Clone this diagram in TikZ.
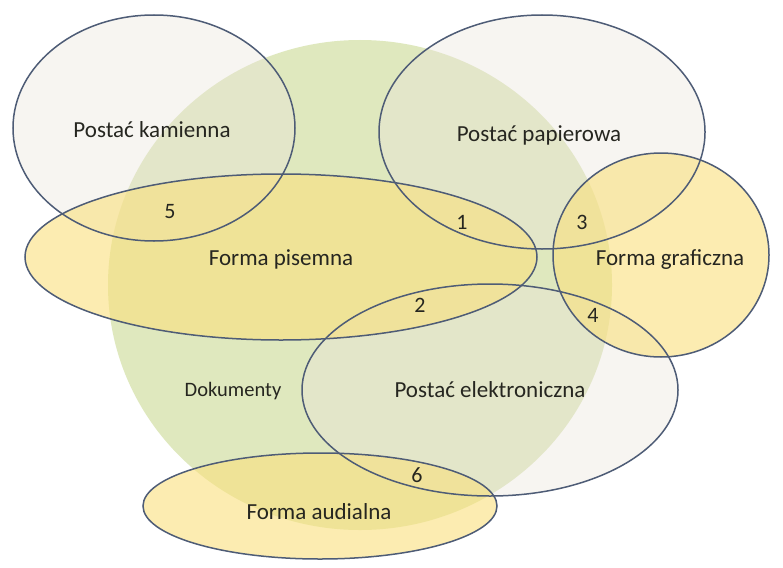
\documentclass[tikz,border=0pt]{standalone}
\usepackage{fontspec}
\setmainfont{Carlito}
\begin{document}
\begin{tikzpicture}[x=1pt,y=-1pt,
  txt/.style={text=labelcol, inner sep=0pt, font=\fontsize{23}{26}\selectfont},
  num/.style={text=labelcol, inner sep=0pt, font=\fontsize{22}{24}\selectfont},
  border/.style={draw=edgecol, line width=1.5pt},
  docfill/.style={fill=docgreen, fill opacity=0.78},
  posfill/.style={fill=posgray, fill opacity=0.38},
  formfill/.style={fill=formyellow, fill opacity=0.6}]
\definecolor{labelcol}{RGB}{38,38,32}
\definecolor{edgecol}{RGB}{78,92,118}
\definecolor{docgreen}{RGB}{214,226,172}
\definecolor{posgray}{RGB}{236,229,220}
\definecolor{formyellow}{RGB}{250,224,125}
\useasboundingbox (0,0) rectangle (783,567);
\fill[white] (0,0) rectangle (783,567);
% fills
\fill[docfill] (360,285) ellipse [x radius=252, y radius=245];
\fill[posfill] (154,128) ellipse [x radius=141, y radius=113];
\fill[posfill] (542,132) ellipse [x radius=163, y radius=117];
\fill[posfill] (490,390) ellipse [x radius=188, y radius=106];
\fill[formfill] (281,257) ellipse [x radius=256, y radius=83];
\fill[formfill] (661,255) ellipse [x radius=108, y radius=102];
\fill[formfill] (320,506) ellipse [x radius=177, y radius=53];
% borders
\draw[border] (154,128) ellipse [x radius=141, y radius=113];
\draw[border] (542,132) ellipse [x radius=163, y radius=117];
\draw[border] (490,390) ellipse [x radius=188, y radius=106];
\draw[border] (281,257) ellipse [x radius=256, y radius=83];
\draw[border] (661,255) ellipse [x radius=108, y radius=102];
\draw[border] (320,506) ellipse [x radius=177, y radius=53];
% labels
\node[txt] (lk) at (152,130) {Postać kamienna};
\node[txt] (lp) at (539,135) {Postać papierowa};
\node[txt] (lfp) at (281,259) {Forma pisemna};
\node[txt] (lfg) at (670,260) {Forma graficzna};
\node[txt, font=\fontsize{20.5}{23}\selectfont] (ld) at (233,391) {Dokumenty};
\node[txt] (le) at (490,390) {Postać elektroniczna};
\node[txt] (lfa) at (319,512) {Forma audialna};
\node[num] (n5) at (170,212) {5};
\node[num] (n1) at (462,222) {1};
\node[num] (n3) at (582,222) {3};
\node[num] (n2) at (420,305) {2};
\node[num] (n4) at (593,315) {4};
\node[num] (n6) at (417,475) {6};
\end{tikzpicture}
\end{document}
